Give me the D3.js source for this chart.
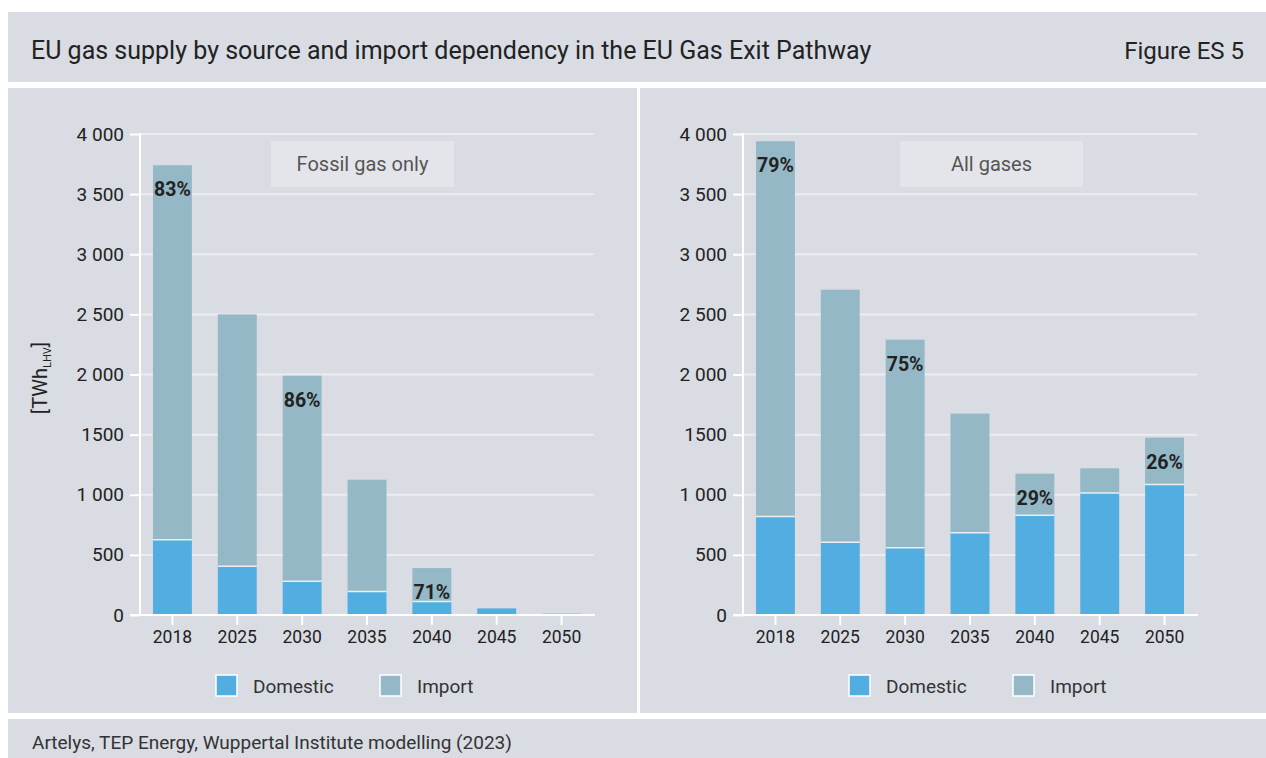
<!DOCTYPE html>
<html><head><meta charset="utf-8">
<script src="https://cdn.jsdelivr.net/npm/d3@7"></script>
<style>
html,body{margin:0;padding:0;background:#fff;}
svg{display:block;font-family:Roboto,"Noto Sans",sans-serif;}
</style></head>
<body>
<svg id="chart" width="1266" height="758"></svg>
<script>
const years = ["2018","2025","2030","2035","2040","2045","2050"];
const fossilDomestic = [625, 405, 280, 195, 112, 55, 0];
const fossilImport   = [3115, 2095, 1710, 930, 278, 0, 12];
const allDomestic    = [820, 605, 560, 685, 830, 1015, 1085];
const allImport      = [3120, 2100, 1730, 990, 345, 205, 390];
const fossilPct = ["83%", null, "86%", null, "71%", null, null];
const allPct    = ["79%", null, "75%", null, "29%", null, "26%"];
const yTicks = [0, 500, 1000, 1500, 2000, 2500, 3000, 3500, 4000];
const yTickLabels = ["0", "500", "1 000", "1500", "2 000", "2 500", "3 000", "3 500", "4 000"];
const seriesNames = ["Domestic", "Import"];
const colors = {Domestic: "#52ade0", Import: "#95b8c6"};

const svg = d3.select("#chart");
const bg = "#d9dce3";
// panels
svg.append("rect").attr("x",8).attr("y",12).attr("width",1258).attr("height",70).attr("fill",bg);
svg.append("rect").attr("x",8).attr("y",88).attr("width",629).attr("height",625).attr("fill",bg);
svg.append("rect").attr("x",640).attr("y",88).attr("width",626).attr("height",625).attr("fill",bg);
svg.append("rect").attr("x",8).attr("y",719).attr("width",1258).attr("height",39).attr("fill",bg);

svg.append("text").attr("x",31).attr("y",59).attr("font-size",25).attr("fill","#222")
  .text("EU gas supply by source and import dependency in the EU Gas Exit Pathway");
svg.append("text").attr("x",1244).attr("y",59).attr("font-size",24).attr("fill","#222")
  .attr("text-anchor","end").text("Figure ES 5");
svg.append("text").attr("x",32).attr("y",749).attr("font-size",19).attr("fill","#333")
  .text("Artelys, TEP Energy, Wuppertal Institute modelling (2023)");

function drawChart(x0, x1, domestic, imports, pcts, label, boxX, boxW, legendX, legendGap, ylabel) {
  const y = d3.scaleLinear().domain([0, 4000]).range([615, 134]);
  const x = d3.scaleBand().domain(years).range([x0, x1]).paddingInner(0.4).paddingOuter(0.2);
  const g = svg.append("g");
  g.append("g").attr("transform",`translate(${x0},0)`)
    .call(d3.axisLeft(y).tickValues(yTicks).tickSize(10).tickPadding(6)
      .tickFormat(v => yTickLabels[yTicks.indexOf(v)]))
    .call(a => a.select(".domain").remove())
    .call(a => a.selectAll(".tick line").attr("stroke","#fff").attr("stroke-width",2))
    .call(a => a.selectAll(".tick text").attr("font-size",19).attr("fill","#222").attr("font-family","Roboto,sans-serif"));
  g.append("g").selectAll("line").data(yTicks.filter(d=>d>0)).join("line")
    .attr("x1",x0).attr("x2",x1).attr("y1",d=>y(d)).attr("y2",d=>y(d))
    .attr("stroke","#ecedf0").attr("stroke-width",2);
  g.append("line").attr("x1",x0).attr("x2",x0).attr("y1",y(4000)-1).attr("y2",y(0)).attr("stroke","#fff").attr("stroke-width",2);

  const stackData = years.map((yr,i)=>({year:yr, Domestic:domestic[i], Import:imports[i]}));
  const stack = d3.stack().keys(seriesNames)(stackData);
  g.append("g").selectAll("g").data(stack).join("g").attr("fill",d=>colors[d.key])
    .selectAll("rect").data(d=>d).join("rect")
    .attr("x",d=>x(d.data.year)).attr("width",x.bandwidth())
    .attr("y",d=>y(d[1])).attr("height",d=>Math.max(0,y(d[0])-y(d[1])));
  g.append("g").selectAll("line").data(stackData.filter(d=>d.Domestic>0 && d.Import>0)).join("line")
    .attr("x1",d=>x(d.year)).attr("x2",d=>x(d.year)+x.bandwidth())
    .attr("y1",d=>y(d.Domestic)).attr("y2",d=>y(d.Domestic)).attr("stroke","#e8eef2").attr("stroke-width",1.5);

  g.append("g").attr("transform",`translate(0,${y(0)})`)
    .call(d3.axisBottom(x).tickSize(10).tickPadding(6))
    .call(a => a.select(".domain").attr("stroke","#fff").attr("stroke-width",2).attr("d",`M${x0-10},0H${x1+1}`))
    .call(a => a.selectAll(".tick line").attr("stroke","#fff").attr("stroke-width",2))
    .call(a => a.selectAll(".tick text").attr("font-size",17.5).attr("fill","#222").attr("font-family","Roboto,sans-serif"));

  g.append("g").selectAll("text").data(stackData.map((d,i)=>({...d,pct:pcts[i]})).filter(d=>d.pct)).join("text")
    .attr("x",d=>x(d.year)+x.bandwidth()/2).attr("y",d=>y(d.Domestic+d.Import)+31)
    .attr("text-anchor","middle").attr("font-size",19.5).attr("font-weight","bold").attr("fill","#222")
    .text(d=>d.pct);

  g.append("rect").attr("x",boxX).attr("y",141).attr("width",boxW).attr("height",46).attr("fill","#e4e5ea");
  g.append("text").attr("x",boxX+boxW/2).attr("y",171).attr("text-anchor","middle").attr("font-size",20).attr("fill","#555").text(label);

  const lg = g.append("g").attr("transform",`translate(${legendX},675)`);
  seriesNames.forEach((s,i)=>{
    const gx = i*legendGap;
    lg.append("rect").attr("x",gx).attr("y",0).attr("width",21).attr("height",21)
      .attr("fill",colors[s]).attr("stroke","#fff").attr("stroke-width",1.5);
    lg.append("text").attr("x",gx+37).attr("y",18).attr("font-size",19).attr("fill","#333").text(s);
  });

  if (ylabel) {
    const t = svg.append("text").attr("transform","translate(47,378) rotate(-90)")
      .attr("text-anchor","middle").attr("font-size",20).attr("fill","#222");
    t.append("tspan").text("[TWh");
    t.append("tspan").attr("font-size",11).attr("dy",4).text("LHV");
    t.append("tspan").attr("dy",-4).text("]");
  }
}

drawChart(140, 594, fossilDomestic, fossilImport, fossilPct, "Fossil gas only", 271, 183, 216, 164, true);
drawChart(743, 1197, allDomestic, allImport, allPct, "All gases", 900, 183, 849, 164, false);
</script>
</body></html>
